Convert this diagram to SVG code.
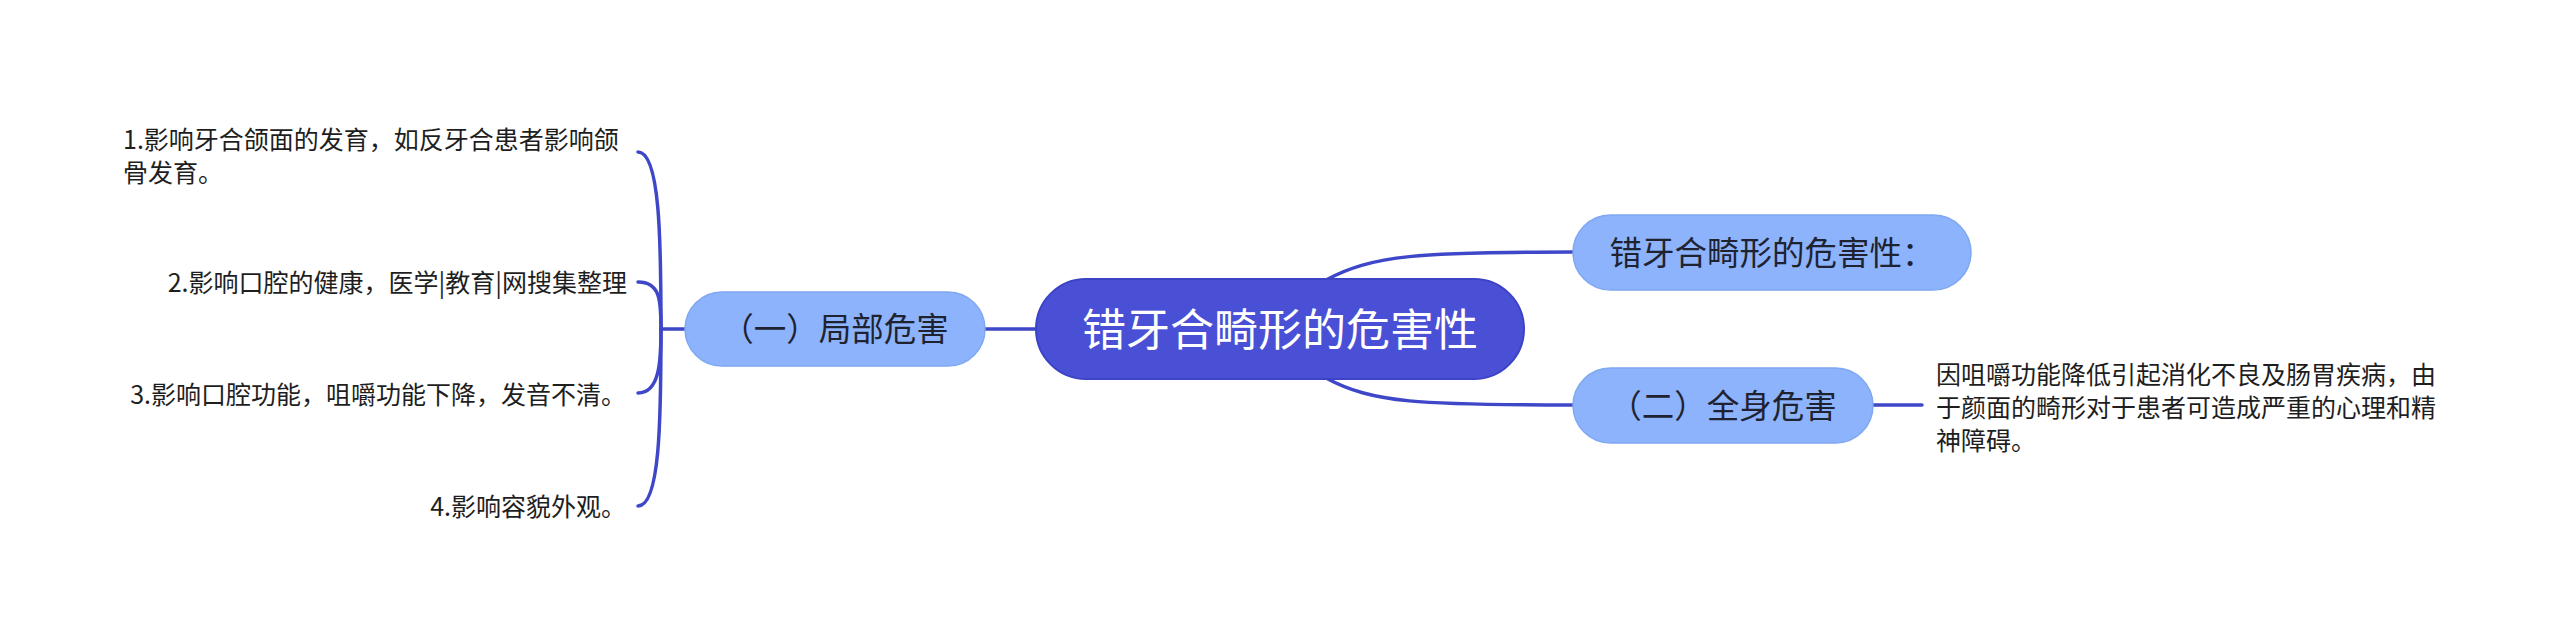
<svg xmlns="http://www.w3.org/2000/svg" width="2560" height="642" viewBox="0 0 2560 642">
<style>
.bg{fill:#ffffff}
.center{fill:#4a50d6;stroke:#3c43c4;stroke-width:2}
.sub{fill:#8cb3fb;stroke:#7fa8f2;stroke-width:1.5}
.ct{font-family:"Noto Sans CJK SC","Noto Sans",sans-serif;font-size:44px;fill:#ffffff;text-anchor:middle}
.st{font-family:"Noto Sans CJK SC","Noto Sans",sans-serif;font-size:32.5px;fill:#1f2230;text-anchor:middle}
.lt{font-family:"Noto Sans CJK SC","Noto Sans",sans-serif;font-size:25px;fill:#1e1e1e}
.conn{fill:none;stroke:#3f47c9;stroke-width:3.5;stroke-linecap:round}
</style>
<rect class="bg" x="0" y="0" width="2560" height="642"/>
<g id="connectors">
<path class="conn" d="M985,329 L1036,329"/>
<path class="conn" d="M1326,280 C1372,255 1420,252 1573,252"/>
<path class="conn" d="M1326,378 C1372,403 1420,405 1573,405"/>
<path class="conn" d="M1873,405 L1922,405"/>
<path class="conn" d="M685,329 L661,329"/>
<path class="conn" d="M661,329 C661,240 660,152 638,152"/>
<path class="conn" d="M661,329 C661,300 660,282 638,282"/>
<path class="conn" d="M661,329 C661,360 660,393 638,393"/>
<path class="conn" d="M661,329 C661,420 660,506 638,506"/>
</g>
<g id="center">
<rect class="center" x="1036" y="279" width="488" height="100" rx="50"/>
<text class="ct" x="1280" y="346">错牙合畸形的危害性</text>
</g>
<g id="local">
<rect class="sub" x="685" y="292" width="300" height="74" rx="37"/>
<text class="st" x="835" y="341">（一）局部危害</text>
</g>
<g id="summary">
<rect class="sub" x="1573" y="215" width="398" height="75" rx="37.5"/>
<text class="st" x="1772" y="265">错牙合畸形的危害性：</text>
</g>
<g id="whole">
<rect class="sub" x="1573" y="368" width="300" height="75" rx="37.5"/>
<text class="st" x="1723" y="418">（二）全身危害</text>
</g>
<g id="leaf1">
<text class="lt" x="123" y="148.5">1.影响牙合颌面的发育，如反牙合患者影响颌</text>
<text class="lt" x="123" y="181.5">骨发育。</text>
</g>
<g id="leaf2">
<text class="lt" x="627" y="291.5" text-anchor="end">2.影响口腔的健康，医学|教育|网搜集整理</text>
</g>
<g id="leaf3">
<text class="lt" x="626" y="403.5" text-anchor="end">3.影响口腔功能，咀嚼功能下降，发音不清。</text>
</g>
<g id="leaf4">
<text class="lt" x="626" y="515.5" text-anchor="end">4.影响容貌外观。</text>
</g>
<g id="leaf5">
<text class="lt" x="1936" y="383.5">因咀嚼功能降低引起消化不良及肠胃疾病，由</text>
<text class="lt" x="1936" y="417">于颜面的畸形对于患者可造成严重的心理和精</text>
<text class="lt" x="1936" y="449.5">神障碍。</text>
</g>
</svg>
